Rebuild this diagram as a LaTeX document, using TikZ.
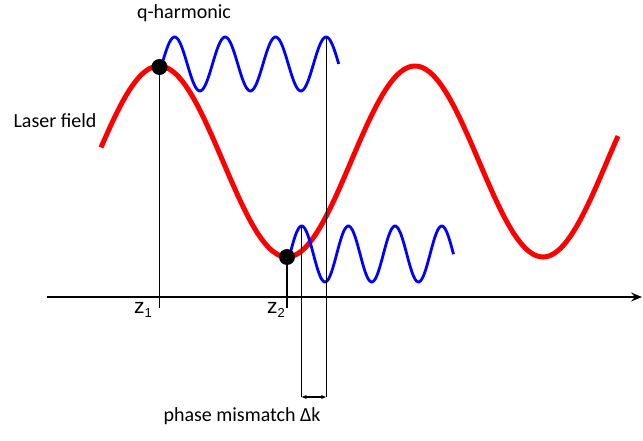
\documentclass[tikz,border=0pt]{standalone}
\usepackage{fontspec}
\setmainfont{Carlito}
\newfontfamily\arialfont{Liberation Sans}
\usepackage{tikz}
\usetikzlibrary{arrows.meta,positioning,calc}

\newcommand{\zsub}[1]{{\fontsize{21}{24}\selectfont z}\raisebox{-4pt}{\fontsize{13}{14}\selectfont #1}}

\begin{document}
\begin{tikzpicture}[
    x=1pt, y=-1pt,
    % --- STYLES ---
    laser/.style={draw=red, line width=5pt},
    harmonic/.style={draw=blue, line width=2.8pt},
    marker/.style={circle, fill=black, minimum size=16pt, inner sep=0pt},
    guide/.style={draw=black, line width=1.2pt},
    axis/.style={draw=black, line width=1.5pt, -{Stealth[length=11pt,width=9pt,inset=4pt]}},
    label/.style={font=\fontsize{20}{24}\selectfont, anchor=base},
    zlabel/.style={font=\arialfont, inner sep=0pt, anchor=base east}
]
\useasboundingbox (0,0) rectangle (643,441);

% ===== 1. COORDINATES =====
\coordinate (axisL) at (47,297);
\coordinate (axisR) at (642,297);
\coordinate (peakA) at (326.1,37);
\coordinate (peakB) at (301.7,226);
\coordinate (footA) at (159.5,308);
\coordinate (footB) at (287,308);
\coordinate (endA) at (326.1,397);
\coordinate (endB) at (301.7,397);

% ===== 2. WAVES =====
\draw[axis] (axisL) -- (axisR);

% laser field
\draw[laser] plot[domain=101:618, samples=160, smooth]
    (\x, {161.5-95.5*cos((\x-159)/256*360)});

% q-harmonic at z1 and at z2
\draw[harmonic] plot[domain=162:338.75, samples=120, smooth]
    (\x, {64-27*sin((\x-162)/50.5*360)});
\draw[harmonic] plot[domain=290:453.5, samples=120, smooth]
    (\x, {254-28*sin((\x-290)/46.7*360)});

% ===== 3. MARKERS & GUIDES =====
\node[marker] (dotA) at (159.5,67) {};
\node[marker] (dotB) at (287,257) {};

\draw[guide] (dotA.center) -- (footA);
\draw[guide] (dotB.center) -- (footB);
\draw[guide] (peakA) -- (endA);
\draw[guide] (peakB) -- (endB);
\draw[guide, {Stealth[length=5pt,width=4pt]}-{Stealth[length=5pt,width=4pt]}] (endB) -- (endA);

% ===== 4. LABELS =====
\node[label] (harm) at (184,18.5) {q-harmonic};
\node[label] (field) at (55,128) {Laser field};
\node[label] (mism) at (242,421) {phase mismatch Δk};
\node[zlabel] (zA) at (152,313) {\zsub{1}};
\node[zlabel] (zB) at (285,313) {\zsub{2}};

\end{tikzpicture}
\end{document}
